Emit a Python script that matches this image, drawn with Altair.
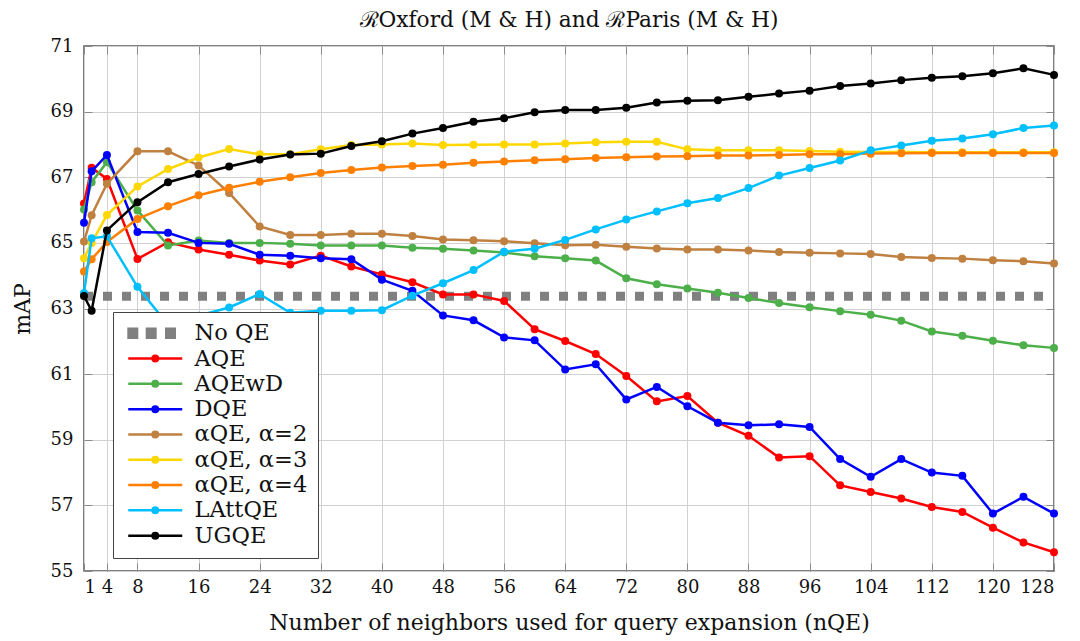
import altair as alt
import pandas as pd

# Neighbour counts at which each method was evaluated
n_values = [1, 2, 4, 8, 12, 16, 20, 24, 28, 32, 36, 40, 44, 48, 52, 56, 60, 64,
            68, 72, 76, 80, 84, 88, 92, 96, 100, 104, 108, 112, 116, 120, 124, 128]

aqe = [66.20, 67.29, 66.95, 64.51, 65.02, 64.80, 64.64, 64.46, 64.34, 64.61, 64.28, 64.04,
       63.80, 63.43, 63.43, 63.23, 62.37, 62.01, 61.61, 60.94, 60.17, 60.33, 59.52, 59.12,
       58.46, 58.50, 57.61, 57.41, 57.21, 56.95, 56.80, 56.32, 55.87, 55.57]
aqewd = [66.02, 66.85, 67.46, 65.99, 64.92, 65.07, 65.00, 65.00, 64.97, 64.92, 64.92, 64.92,
         64.85, 64.82, 64.77, 64.71, 64.59, 64.53, 64.46, 63.92, 63.74, 63.61, 63.48, 63.32,
         63.17, 63.04, 62.92, 62.81, 62.63, 62.30, 62.17, 62.02, 61.88, 61.80]
dqe = [65.61, 67.18, 67.68, 65.33, 65.31, 65.00, 64.97, 64.64, 64.61, 64.53, 64.50, 63.88,
       63.54, 62.79, 62.64, 62.12, 62.03, 61.14, 61.30, 60.23, 60.61, 60.02, 59.52, 59.44,
       59.47, 59.39, 58.41, 57.87, 58.41, 58.00, 57.90, 56.75, 57.26, 56.75]
alpha2 = [65.04, 65.84, 66.80, 67.79, 67.79, 67.36, 66.52, 65.50, 65.24, 65.24, 65.28, 65.28,
          65.21, 65.10, 65.08, 65.05, 64.99, 64.93, 64.94, 64.88, 64.83, 64.80, 64.80, 64.77,
          64.72, 64.70, 64.68, 64.66, 64.57, 64.54, 64.52, 64.47, 64.44, 64.37]
alpha3 = [64.53, 65.00, 65.85, 66.72, 67.25, 67.60, 67.86, 67.70, 67.70, 67.85, 67.98, 68.00,
          68.03, 67.98, 67.99, 68.00, 68.00, 68.03, 68.07, 68.08, 68.08, 67.85, 67.82, 67.82,
          67.82, 67.80, 67.78, 67.77, 67.77, 67.76, 67.76, 67.76, 67.76, 67.76]
alpha4 = [64.13, 64.50, 65.03, 65.73, 66.12, 66.45, 66.68, 66.86, 67.00, 67.13, 67.22, 67.30,
          67.34, 67.38, 67.44, 67.48, 67.52, 67.55, 67.59, 67.61, 67.63, 67.64, 67.66, 67.66,
          67.68, 67.70, 67.70, 67.72, 67.73, 67.74, 67.74, 67.74, 67.74, 67.74]
lattqe = [63.47, 65.14, 65.20, 63.66, 62.50, 62.78, 63.03, 63.44, 62.87, 62.93, 62.93, 62.95,
          63.39, 63.77, 64.17, 64.73, 64.82, 65.09, 65.41, 65.71, 65.96, 66.21, 66.37, 66.67,
          67.05, 67.28, 67.51, 67.82, 67.97, 68.11, 68.18, 68.31, 68.50, 68.58]
ugqe = [63.38, 62.93, 65.38, 66.24, 66.85, 67.10, 67.33, 67.54, 67.69, 67.72, 67.95, 68.10,
        68.33, 68.50, 68.69, 68.80, 68.98, 69.05, 69.05, 69.12, 69.28, 69.33, 69.35, 69.45,
        69.55, 69.64, 69.78, 69.86, 69.96, 70.03, 70.08, 70.17, 70.32, 70.12]

# Baseline without query expansion (constant across nQE)
no_qe_map = 63.37

methods = ["No QE", "AQE", "AQEwD", "DQE", "αQE, α=2", "αQE, α=3", "αQE, α=4",
           "LAttQE", "UGQE"]
colors = ["#808080", "#ff0000", "#4daf4a", "#0000ff", "#bf8040", "#ffd700", "#ff8000",
          "#00bfff", "#000000"]
series = [aqe, aqewd, dqe, alpha2, alpha3, alpha4, lattqe, ugqe]

x_ticks = [1, 4, 8, 16, 24, 32, 40, 48, 56, 64, 72, 80, 88, 96, 104, 112, 120, 128]
y_ticks = [55, 57, 59, 61, 63, 65, 67, 69, 71]

rows = [{"n": n_values[0], "mAP": no_qe_map, "method": "No QE"},
        {"n": n_values[-1], "mAP": no_qe_map, "method": "No QE"}]
for name, vals in zip(methods[1:], series):
    for n, v in zip(n_values, vals):
        rows.append({"n": n, "mAP": v, "method": name})
df = pd.DataFrame(rows)

FONT = "DejaVu Serif"
INWARD = alt.ExprRef(expr="-8")  # tick marks pointing into the plot

# Legend glyphs (symbolSize 100 -> 5 px per path unit): a short line with a dot,
# and three grey squares for the baseline
LINE_DOT = ("M-5.4,0L5.4,0M0.55,0A0.55,0.55 0 1,1 -0.55,0"
            "A0.55,0.55 0 1,1 0.55,0Z")
SQUARES = ("M-5.34,-0.88h1.7v1.76h-1.7Z M-1.66,-0.88h1.7v1.76h-1.7Z "
           "M2.2,-0.88h1.7v1.76h-1.7Z")

legend = alt.Legend(
    title=None,
    orient="none",
    legendX=29,
    legendY=266,
    symbolType=alt.ExprRef(expr=f"datum.value === 'No QE' ? '{SQUARES}' : '{LINE_DOT}'"),
    symbolSize=100,
    symbolOffset=21,
    symbolFillColor=alt.ExprRef(expr="scale('color', datum.value)"),
    symbolStrokeColor=alt.ExprRef(
        expr="datum.value === 'No QE' ? 'transparent' : scale('color', datum.value)"),
    symbolStrokeWidth=2.5,
    symbolOpacity=1,
    labelFont=FONT,
    labelFontSize=22.5,
    labelColor="#111111",
    labelOffset=28,
    rowPadding=2.3,
    padding=10,
    strokeColor="#444444",
    fillColor="white",
    cornerRadius=0,
)

color = alt.Color("method:N", scale=alt.Scale(domain=methods, range=colors), legend=legend)
x_scale = alt.Scale(domain=[1, 128], nice=False, zero=False)
y_scale = alt.Scale(domain=[55, 71], nice=False, zero=False)

# Main axes (bottom/left) carry labels, titles and grid; top/right only show ticks
x_main = alt.X("n:Q", scale=x_scale,
               axis=alt.Axis(values=x_ticks, orient="bottom", tickSize=INWARD,
                             title="Number of neighbors used for query expansion (nQE)"))
y_main = alt.Y("mAP:Q", scale=y_scale,
               axis=alt.Axis(values=y_ticks, orient="left", tickSize=INWARD, title="mAP"))
x_top = alt.X("n:Q", scale=x_scale,
              axis=alt.Axis(values=x_ticks, orient="top", tickSize=INWARD, labels=False,
                            grid=False, title=None))
y_right = alt.Y("mAP:Q", scale=y_scale,
                axis=alt.Axis(values=y_ticks, orient="right", tickSize=INWARD, labels=False,
                              grid=False, title=None))
x_plain = alt.X("n:Q", scale=x_scale, axis=None)
y_plain = alt.Y("mAP:Q", scale=y_scale, axis=None)

layers = [
    alt.Chart().mark_line(strokeWidth=9, strokeDash=[9, 10], strokeCap="butt")
    .encode(x=x_main, y=y_main, color=color)
    .transform_filter(alt.datum.method == "No QE")
]
for i, name in enumerate(methods[1:]):
    last = i == len(methods) - 2
    layers.append(
        alt.Chart().mark_line(strokeWidth=2.5)
        .encode(x=x_plain, y=y_plain, color=color)
        .transform_filter(alt.datum.method == name)
    )
    layers.append(
        alt.Chart().mark_point(filled=True, size=64, opacity=1, strokeWidth=0)
        .encode(x=x_top if last else x_plain, y=y_right if last else y_plain, color=color)
        .transform_filter(alt.datum.method == name)
    )

chart = (
    alt.layer(*layers, data=df)
    .resolve_axis(x="independent", y="independent")
    .properties(
        width=970,
        height=525,
        title=alt.Title("ℛOxford (M & H) and ℛParis (M & H)", font=FONT, fontSize=21.7,
                        fontWeight="normal", color="#111111", offset=5, frame="group"),
        padding={"left": 84, "top": 46, "right": 26, "bottom": 70},
        autosize=alt.AutoSizeParams(type="none"),
    )
    .configure_view(stroke="#555555", strokeWidth=1.5)
    .configure_axis(
        domain=False,
        ticks=True,
        tickColor="#8a8a8a",
        tickWidth=1,
        grid=True,
        gridColor="#d0d0d0",
        gridWidth=1,
        labelFont=FONT,
        labelFontSize=18,
        labelColor="#111111",
        titleFont=FONT,
        titleFontSize=22,
        titleFontWeight="normal",
        titleColor="#111111",
    )
    .configure_axisBottom(labelPadding=15, titlePadding=16)
    .configure_axisLeft(labelPadding=19, titlePadding=16)
)

chart.save("out.html", embed_options={"renderer": "svg", "actions": False})
